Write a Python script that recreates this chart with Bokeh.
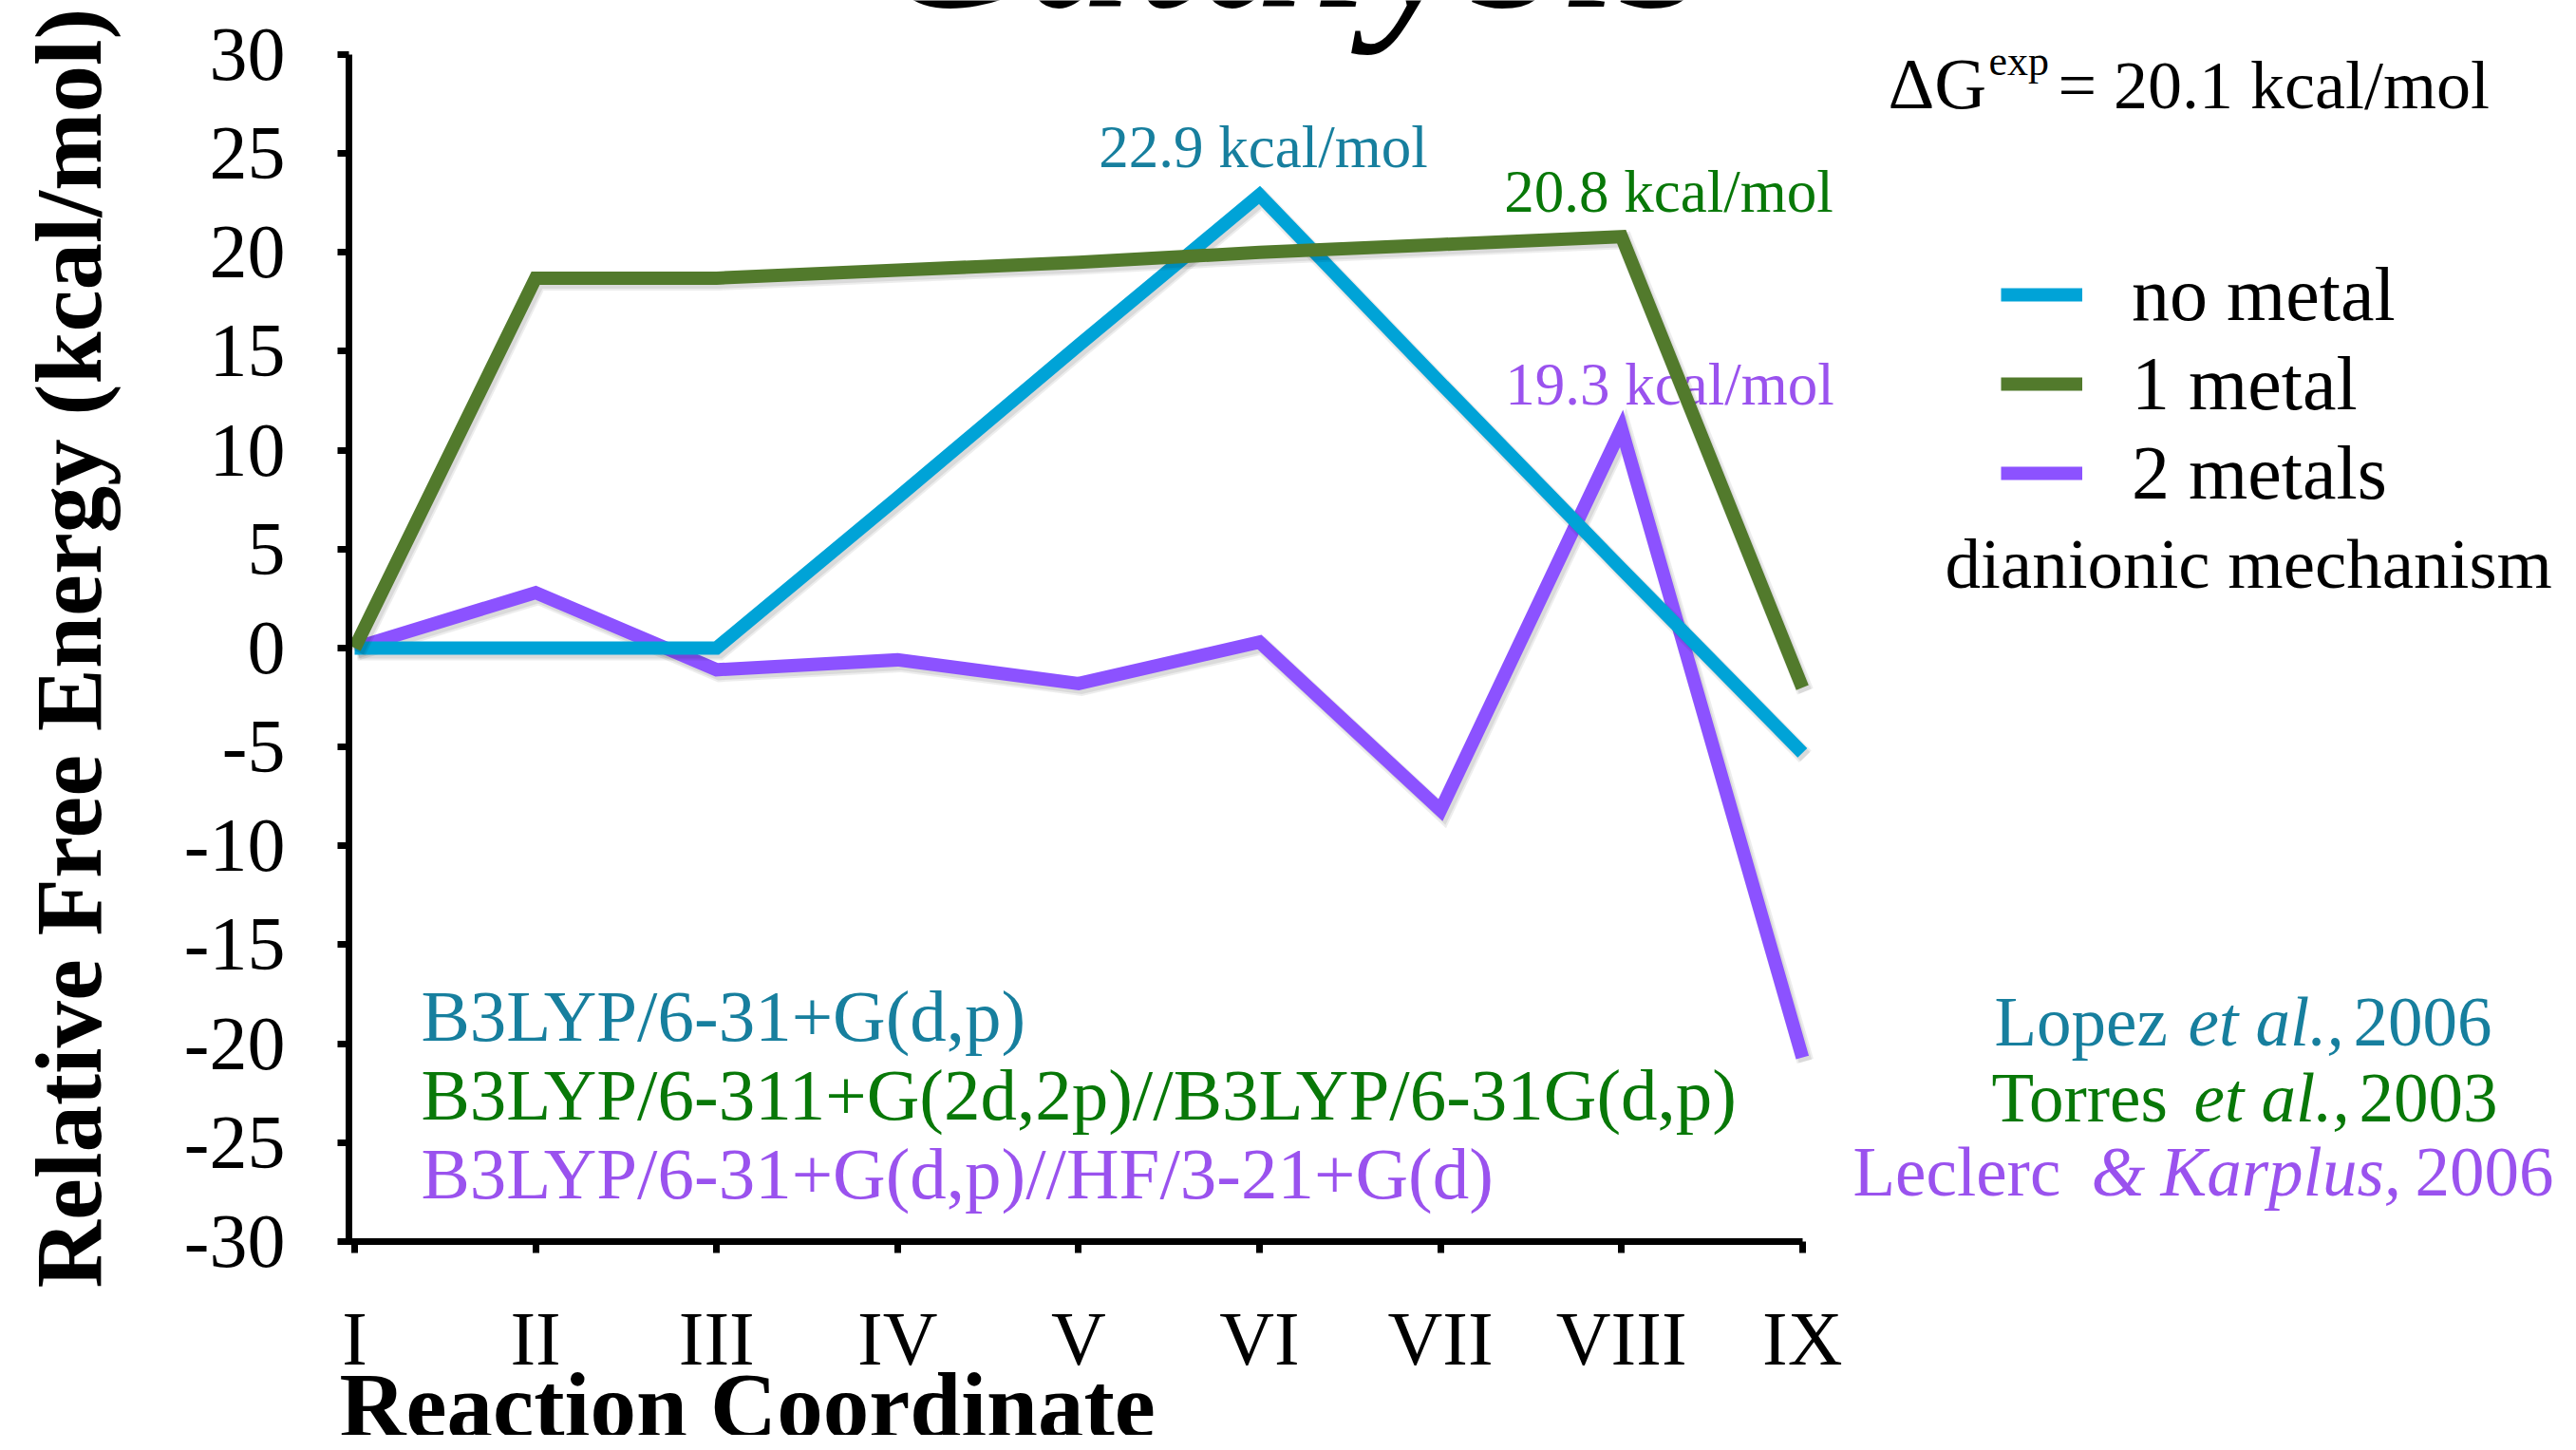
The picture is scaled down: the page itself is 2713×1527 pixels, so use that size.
import math
from bokeh.plotting import figure
from bokeh.models import Range1d, FixedTicker, Label, Legend, LegendItem
from bokeh.embed import file_html
from bokeh.resources import INLINE

# ---------------- data ----------------
stages = ["I", "II", "III", "IV", "V", "VI", "VII", "VIII", "IX"]
stage_pos = list(range(len(stages)))
no_metal = [0.0, 0.0, 0.0, 7.6, 15.3, 22.9, 13.4, 4.0, -5.3]
one_metal = [0.0, 18.7, 18.7, 19.1, 19.5, 20.0, 20.4, 20.8, -2.0]
two_metals = [0.0, 2.8, -1.1, -0.6, -1.8, 0.3, -8.2, 11.1, -20.7]
series_names = ["no metal", "1 metal", "2 metals"]
y_ticks = list(range(-30, 31, 5))
y_tick_labels = [str(t) for t in y_ticks]
barrier_texts = ["22.9 kcal/mol", "20.8 kcal/mol", "19.3 kcal/mol"]
method_texts = ["B3LYP/6-31+G(d,p)",
                "B3LYP/6-311+G(2d,2p)//B3LYP/6-31G(d,p)",
                "B3LYP/6-31+G(d,p)//HF/3-21+G(d)"]
mechanism_text = "dianionic mechanism"
title_text = "Catalysis"
y_title = "Relative Free Energy (kcal/mol)"
x_title = "Reaction Coordinate"

# ---------------- colours ----------------
LINE_COLORS = ["#00A3D7", "#527A2C", "#8C52FF"]
TEXT_COLORS = ["#177F9E", "#087808", "#9A52EE"]
SERIF = "Liberation Serif"

# ---------------- layout (pixels of the 2713x1527 page) ----------------
W, H = 2697, 1511
PXX, PXY = 190.6, 20.83          # pixels per data unit
X_ORIG_I = 373                   # page x of stage I
Y_ORIG_30 = 57                   # page y of 30 kcal/mol


def X(px):
    return (px - X_ORIG_I) / PXX


def Y(py):
    return 30 - (py - Y_ORIG_30) / PXY


X0, XE = X(0), X(W)
Y1, Y0 = Y(0), Y(H)

p = figure(width=W, height=H, output_backend="svg", toolbar_location=None,
           x_range=Range1d(X0, XE), y_range=Range1d(Y0, Y1),
           min_border_left=0, min_border_right=0, min_border_top=0,
           min_border_bottom=0)
p.outline_line_color = None
p.xgrid.visible = False
p.ygrid.visible = False
p.background_fill_color = "white"
p.border_fill_color = "white"

AX_X = X(367)   # data x of the vertical axis line

# axes, fixed inside the frame
yax = p.yaxis[0]
yax.fixed_location = AX_X
yax.ticker = FixedTicker(ticks=y_ticks)
yax.major_label_overrides = {t: s for t, s in zip(y_ticks, y_tick_labels)}
yax.bounds = (-30 - 3.5 / PXY, 30)
yax.axis_line_width = 7
yax.major_tick_line_width = 7
yax.major_tick_out = 12
yax.major_tick_in = 0
yax.minor_tick_line_color = None
yax.major_label_text_font = SERIF
yax.major_label_text_font_size = "80px"
yax.major_label_text_color = "black"
yax.major_label_standoff = 55

xax = p.xaxis[0]
xax.fixed_location = -30
xax.ticker = FixedTicker(ticks=stage_pos)
xax.major_label_overrides = {i: s for i, s in zip(stage_pos, stages)}
xax.bounds = (AX_X - 3.5 / PXX, stage_pos[-1])
xax.axis_line_width = 7
xax.major_tick_line_width = 7
xax.major_tick_out = 12
xax.major_tick_in = 0
xax.minor_tick_line_color = None
xax.major_label_text_font = SERIF
xax.major_label_text_font_size = "80px"
xax.major_label_text_color = "black"
xax.major_label_standoff = 47

# shadow ranges (offset a few pixels right / down)
p.extra_x_ranges = {"sx": Range1d(X0 - 3 / PXX, XE - 3 / PXX)}
p.extra_y_ranges = {"sy": Range1d(Y0 + 4 / PXY, Y1 + 4 / PXY)}

BASE_SHIFT = 0.36   # empirical baseline correction (in em)


def add_text(text, px, py, fs, color="black", style="normal", align="left",
             level="annotation"):
    p.add_layout(Label(x=X(px), y=Y(py - BASE_SHIFT * fs), text=text,
                       text_color=color, text_font=SERIF, text_font_style=style,
                       text_font_size=f"{fs}px", text_align=align,
                       text_baseline="alphabetic", level=level))


# barrier annotations (under the lines)
barrier_pos = [(1330, 177), (1757, 224), (1758, 427)]
for t, c, (bx, by) in zip(barrier_texts, TEXT_COLORS, barrier_pos):
    add_text(t, bx, by, 63, color=c, align="center", level="underlay")

# lines: purple bottom, blue, green on top
series = [no_metal, one_metal, two_metals]
renderers = {}
for idx in [2, 0, 1]:
    vals = series[idx]
    p.line(stage_pos, vals, line_width=18, line_color="black", line_alpha=0.07,
           line_join="miter", x_range_name="sx", y_range_name="sy")
    p.line(stage_pos, vals, line_width=14, line_color="black", line_alpha=0.08,
           line_join="miter", x_range_name="sx", y_range_name="sy")
    r = p.line(stage_pos, vals, line_width=14, line_color=LINE_COLORS[idx],
               line_join="miter", line_cap="butt")
    renderers[idx] = r

legend = Legend(items=[LegendItem(label=series_names[i], renderers=[renderers[i]])
                       for i in range(3)],
                location=(2107, 966), glyph_width=86, glyph_height=94,
                label_height=94, spacing=0, padding=0, margin=0,
                label_standoff=52, label_text_font=SERIF,
                label_text_color="black",
                label_text_font_size="80px", background_fill_alpha=0,
                border_line_color=None)
p.add_layout(legend)

# delta G text
add_text("ΔG", 1988, 115, 76)
add_text("exp", 2094, 80, 44)
add_text("= 20.1 kcal/mol", 2167, 115, 72)
add_text(mechanism_text, 2048, 620, 75)

# methods
for t, c, by in zip(method_texts, TEXT_COLORS, [1097, 1180, 1263]):
    add_text(t, 443, by, 77, color=c)

# references (mixed roman / italic)
refs = [
    (1102, TEXT_COLORS[0], [(2100, "Lopez", "normal"), (2304, "et al.,", "italic"),
                            (2478, "2006", "normal")]),
    (1182, TEXT_COLORS[1], [(2097, "Torres", "normal"), (2310, "et al.,", "italic"),
                            (2484, "2003", "normal")]),
    (1260, TEXT_COLORS[2], [(1951, "Leclerc", "normal"), (2202, "&", "italic"),
                            (2275, "Karplus,", "italic"), (2543, "2006", "normal")]),
]
for by, c, parts in refs:
    for bx, t, st in parts:
        add_text(t, bx, by, 73, color=c, style=st)

# axis titles
YT_FS = 99
p.add_layout(Label(x=X(108 - BASE_SHIFT * YT_FS), y=Y(682), text=y_title,
                   angle=math.pi / 2, text_font=SERIF, text_font_style="bold",
                   text_font_size=f"{YT_FS}px", text_align="center",
                   text_color="black", text_baseline="alphabetic"))
add_text(x_title, 357, 1515, 97, style="bold")

# partial slide title and slide number
add_text(title_text, 920, 12, 235, style="italic")
add_text("20", 1344, 1540, 42)

open("out.html", "w").write(file_html(p, INLINE))
